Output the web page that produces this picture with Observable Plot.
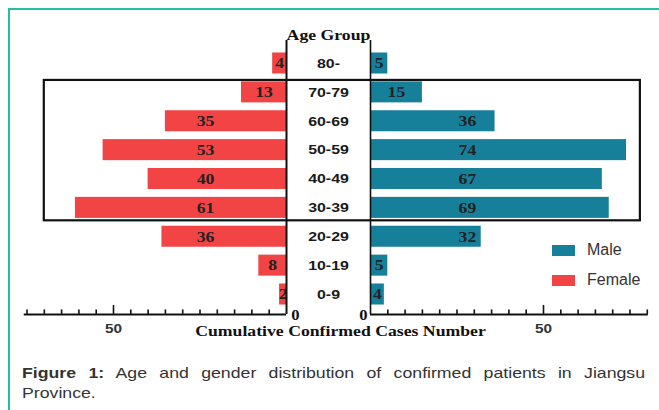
<!DOCTYPE html>
<html>
<head>
<meta charset="utf-8">
<script src="https://cdn.jsdelivr.net/npm/d3@7"></script>
<script src="https://cdn.jsdelivr.net/npm/@observablehq/plot@0.6"></script>
<style>
  html, body { margin: 0; padding: 0; background: #fff; }
  #wrap { position: relative; width: 659px; height: 410px; overflow: hidden; }
  #frame { position: absolute; left: 8px; top: 8px; right: 0; bottom: 0; border-top: 2px solid #22c0a3; border-left: 2px solid #22c0a3; }
  #chart { position: absolute; left: 0; top: 0; }
  .leg { position: absolute; font: 16px "Liberation Sans", Arial, sans-serif; color: #333; }
  .sw { position: absolute; width: 23px; height: 11px; }
  #caption { position: absolute; left: 22px; top: 363px; width: 528px; font: 15px "Liberation Sans", Arial, sans-serif; color: #333; line-height: 20px; transform: scaleX(1.18); transform-origin: 0 0; }
  #caption .l1 { text-align: justify; text-align-last: justify; white-space: nowrap; }
</style>
</head>
<body>
<div id="wrap">
  <div id="frame"></div>
  <div id="chart"></div>
  <div class="sw" style="left:552px;top:245px;background:#167f9a"></div>
  <div class="leg" style="left:587px;top:241px">Male</div>
  <div class="sw" style="left:552px;top:275px;background:#f24444"></div>
  <div class="leg" style="left:587px;top:271px">Female</div>
  <div id="caption">
    <div class="l1"><b>Figure 1:</b> Age and gender distribution of confirmed patients in Jiangsu</div>
    <div>Province.</div>
  </div>
</div>
<script>
// ---- data ----
const ageGroups = ["80-", "70-79", "60-69", "50-59", "40-49", "30-39", "20-29", "10-19", "0-9"];
const male      = [5, 15, 36, 74, 67, 69, 32, 5, 4];
const female    = [4, 13, 35, 53, 40, 61, 36, 8, 2];
const highlightGroups = ["70-79", "30-39"];
const majorTicks = [50];
const femaleAxisMax = 75;
const maleAxisMax = 80;

const maleColor = "#167f9a";
const femaleColor = "#f24444";

// ---- layout helpers (scale units) ----
const K = 3.46;          // px per case
const G = 42 / K;        // half gap between the two panels, in case units
const rows = ageGroups.map((g, i) => ({g, i, m: male[i], f: female[i]}));
const baseY = 8.69;      // row-units position of the axis baseline
const femLabel = v => v < 20 ? v / 2 : 23.4;
const maleLabel = v => v < 20 ? v / 2 : 28;
const i0 = ageGroups.indexOf(highlightGroups[0]);
const i1 = ageGroups.indexOf(highlightGroups[1]);
const tickLen = d => (majorTicks.includes(d) ? 9 : 4.5) / 28.875;

const femTicks = d3.range(5, femaleAxisMax + 1, 5);
const maleTicks = d3.range(5, maleAxisMax + 1, 5);

const serifBold = {fontFamily: "'Liberation Serif', 'Times New Roman', serif", fontWeight: "bold"};
const sansBold = {fontFamily: "'Liberation Sans', Arial, sans-serif", fontWeight: "bold"};

const plot = Plot.plot({
  width: 659,
  height: 340,
  marginTop: 0, marginBottom: 0, marginLeft: 0, marginRight: 0,
  x: {domain: [-328 / K, 331 / K], range: [0, 659], axis: null},
  y: {domain: [-0.5, 8.5], range: [48.56, 308.44], axis: null},
  style: {background: "transparent", overflow: "visible"},
  marks: [
    // bars
    Plot.rectX(rows, {x1: -G, x2: d => -G - d.f, y1: d => d.i - 0.364, y2: d => d.i + 0.364, fill: femaleColor}),
    Plot.rectX(rows, {x1: G, x2: d => G + d.m, y1: d => d.i - 0.364, y2: d => d.i + 0.364, fill: maleColor}),
    // value labels
    Plot.text(rows, {x: d => -G - femLabel(d.f), y: "i", text: d => String(d.f), fill: "#222", fontSize: 15, ...serifBold}),
    Plot.text(rows, {x: d => G + maleLabel(d.m), y: "i", text: d => String(d.m), fill: "#222", fontSize: 15, ...serifBold}),
    // age group labels
    Plot.text(rows, {x: 0, y: "i", text: "g", fill: "#1a1a1a", fontSize: 13.5, ...sansBold}),
    // vertical axis lines
    Plot.ruleX([-G], {y1: -0.8, y2: baseY, stroke: "#111", strokeWidth: 2}),
    Plot.ruleX([G], {y1: -0.8, y2: baseY, stroke: "#111", strokeWidth: 1.6}),
    // horizontal baselines
    Plot.ruleY([baseY], {x1: -G, x2: -G - femaleAxisMax - 0.8, stroke: "#111", strokeWidth: 2}),
    Plot.ruleY([baseY], {x1: G, x2: G + maleAxisMax + 0.3, stroke: "#111", strokeWidth: 2}),
    // ticks
    Plot.ruleX(femTicks, {x: d => -G - d, y1: baseY, y2: d => baseY - tickLen(d), stroke: "#111", strokeWidth: 1.6}),
    Plot.ruleX(maleTicks, {x: d => G + d, y1: baseY, y2: d => baseY - tickLen(d), stroke: "#111", strokeWidth: 1.6}),
    // tick labels
    Plot.text(majorTicks, {x: d => -G - d, y: 9.18, text: d => String(d), fill: "#333", fontSize: 13, ...sansBold}),
    Plot.text(majorTicks, {x: d => G + d, y: 9.18, text: d => String(d), fill: "#333", fontSize: 13, ...sansBold}),
    Plot.text([0], {x: -G, y: baseY, dx: 9, dy: 1, text: d => String(d), fill: "#111", fontSize: 14, ...serifBold}),
    Plot.text([0], {x: G, y: baseY, dx: -7, dy: 1, text: d => String(d), fill: "#111", fontSize: 14, ...serifBold}),
    // highlight box
    Plot.rect([0], {x1: -G - 70, x2: G + 78, y1: i0 - 0.5, y2: i1 + 0.5, insetTop: 2.5, insetBottom: 1.5, fill: "none", stroke: "#111", strokeWidth: 2.2}),
    // titles
    Plot.text(["Age Group"], {x: 0, y: -0.97, text: d => d, fill: "#111", fontSize: 15, ...serifBold}),
    Plot.text(["Cumulative Confirmed Cases Number"], {x: 0, dx: 12, y: 9.28, text: d => d, fill: "#111", fontSize: 15, ...serifBold})
  ]
});
document.getElementById("chart").appendChild(plot);

// The reference figure's lettering is horizontally stretched; widen each label to match.
const STRETCH = 1.18;
d3.select(plot).selectAll("text").each(function () {
  const w = this.getComputedTextLength();
  if (w > 0) {
    this.setAttribute("textLength", (w * STRETCH).toFixed(1));
    this.setAttribute("lengthAdjust", "spacingAndGlyphs");
  }
});
</script>
</body>
</html>
